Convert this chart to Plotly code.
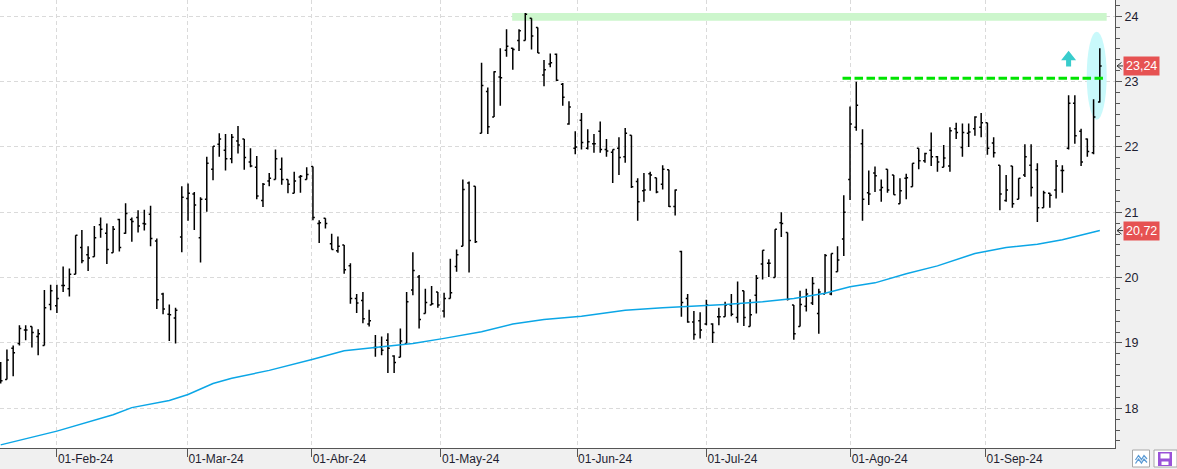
import plotly.graph_objects as go

# ---------------- data ----------------
OPEN = [18.45, 18.44, 18.92, 18.99, 19.20, 19.25, 19.10, 18.96, 19.59, 19.57,
        19.88, 19.83, 20.05, 20.46, 20.35, 20.32, 20.81, 20.68, 20.38, 20.89,
        20.68, 20.89, 20.92, 20.83, 20.97, 20.56, 19.75, 19.44, 19.38, 20.62,
        21.21, 21.28, 20.61, 21.20, 21.66, 22.04, 21.95, 21.82, 22.09, 22.12,
        21.77, 21.69, 21.18, 21.48, 21.50, 21.66, 21.50, 21.29, 21.54, 21.50,
        21.70, 20.83, 20.91, 20.52, 20.41, 20.50, 20.18, 19.68, 19.65, 19.29,
        18.93, 18.94, 19.04, 18.80, 18.78, 18.99, 19.81, 20.01, 19.45, 19.58,
        19.78, 19.49, 19.68, 20.17, 20.48, 21.45, 21.40, 22.21, 22.85, 22.46,
        23.07, 23.48, 23.51, 23.63, 23.63, 23.97, 23.83, 23.10, 23.27, 23.42,
        22.96, 22.35, 21.98, 22.41, 21.98, 22.05, 22.24, 21.96, 21.92, 21.98,
        21.85, 22.18, 21.47, 21.33, 21.59, 21.53, 21.43, 21.65, 21.09, 20.40,
        19.68, 19.32, 19.34, 19.29, 19.29, 19.40, 19.40, 19.58, 19.39, 19.80,
        19.25, 19.73, 20.21, 20.22, 20.00, 20.84, 20.69, 19.58, 19.25, 19.56,
        19.61, 19.45, 19.75, 19.75, 20.09, 20.59, 21.50, 22.30, 22.05, 21.30,
        21.60, 21.34, 21.66, 21.57, 21.13, 21.52, 21.39, 21.98, 21.79, 21.95,
        21.85, 21.69, 21.71, 22.28, 21.99, 22.21, 22.28, 22.30, 22.37, 22.06,
        21.72, 21.18, 21.71, 21.20, 21.57, 21.72, 21.65, 21.07, 21.29, 21.34,
        21.64, 21.98, 22.67, 22.24, 22.12, 21.91, 22.69]
HIGH = [18.71, 18.90, 18.96, 19.27, 19.27, 19.25, 19.21, 19.81, 19.89, 19.89,
        20.17, 20.14, 20.65, 20.73, 20.48, 20.79, 20.92, 20.83, 20.79, 20.90,
        21.14, 20.92, 21.03, 21.04, 21.10, 20.60, 19.77, 19.59, 19.54, 21.40,
        21.44, 21.31, 21.23, 21.85, 22.01, 22.21, 22.20, 22.20, 22.32, 22.12,
        21.98, 21.86, 21.45, 21.60, 21.96, 21.84, 21.50, 21.62, 21.57, 21.69,
        21.70, 20.88, 20.91, 20.67, 20.63, 20.50, 20.22, 19.75, 19.78, 19.51,
        19.12, 19.10, 19.15, 18.81, 19.22, 19.78, 20.39, 20.04, 19.83, 19.87,
        19.78, 19.77, 20.29, 20.43, 21.50, 21.47, 21.40, 23.29, 22.91, 23.16,
        23.51, 23.80, 23.52, 23.80, 24.05, 23.97, 23.83, 23.33, 23.43, 23.43,
        22.98, 22.70, 22.24, 22.52, 22.27, 22.20, 22.39, 22.12, 21.96, 22.15,
        22.29, 22.18, 21.52, 21.60, 21.62, 21.53, 21.72, 21.65, 21.35, 20.41,
        19.75, 19.49, 19.47, 19.66, 19.30, 19.54, 19.63, 19.75, 19.94, 19.80,
        19.67, 20.04, 20.42, 20.28, 20.74, 21.00, 20.69, 19.58, 19.80, 19.83,
        20.01, 19.83, 20.36, 20.37, 20.48, 21.26, 22.62, 23.00, 22.27, 21.64,
        21.70, 21.50, 21.66, 21.57, 21.52, 21.59, 21.75, 21.98, 21.91, 22.22,
        21.86, 22.03, 22.30, 22.37, 22.36, 22.36, 22.47, 22.52, 22.37, 22.15,
        21.72, 21.57, 21.71, 21.52, 22.04, 22.04, 21.75, 21.33, 21.30, 21.80,
        21.72, 22.79, 22.79, 22.28, 22.13, 22.73, 23.51]
LOW = [18.38, 18.44, 18.49, 18.96, 19.04, 18.93, 18.81, 18.96, 19.50, 19.46,
       19.78, 19.71, 20.05, 20.22, 20.10, 20.32, 20.61, 20.21, 20.38, 20.40,
       20.67, 20.55, 20.69, 20.72, 20.48, 19.52, 19.44, 19.03, 18.99, 20.39,
       20.87, 20.73, 20.23, 21.01, 21.49, 21.85, 21.64, 21.75, 21.90, 21.65,
       21.69, 21.20, 21.08, 21.40, 21.50, 21.42, 21.29, 21.29, 21.30, 21.50,
       20.88, 20.53, 20.75, 20.43, 20.38, 20.06, 19.60, 19.46, 19.30, 19.25,
       18.79, 18.81, 18.54, 18.54, 18.78, 18.99, 19.73, 19.22, 19.45, 19.58,
       19.54, 19.39, 19.68, 20.09, 20.48, 20.08, 20.53, 22.21, 22.20, 22.46,
       22.63, 23.38, 23.18, 23.47, 23.63, 23.49, 23.44, 22.93, 23.22, 23.01,
       22.63, 22.34, 21.89, 21.96, 21.96, 21.91, 21.91, 21.85, 21.45, 21.57,
       21.76, 21.37, 20.87, 21.16, 21.33, 21.29, 21.35, 21.08, 20.95, 19.40,
       19.31, 19.05, 19.07, 19.27, 19.00, 19.27, 19.40, 19.41, 19.31, 19.26,
       19.25, 19.45, 19.97, 20.01, 20.00, 20.62, 19.65, 19.05, 19.25, 19.48,
       19.58, 19.14, 19.75, 19.73, 20.09, 20.33, 21.19, 22.25, 20.87, 21.11,
       21.31, 21.16, 21.30, 21.27, 21.13, 21.20, 21.39, 21.66, 21.76, 21.71,
       21.62, 21.69, 21.62, 22.12, 21.85, 22.00, 22.17, 22.15, 21.88, 21.84,
       21.03, 21.16, 21.07, 21.20, 21.54, 21.24, 20.85, 21.07, 21.07, 21.21,
       21.30, 21.96, 22.05, 21.71, 21.85, 21.89, 22.68]
CLOSE = [18.42, 18.74, 18.85, 19.22, 19.20, 19.16, 19.14, 19.54, 19.80, 19.68,
         19.88, 20.05, 20.65, 20.26, 20.30, 20.61, 20.74, 20.43, 20.74, 20.46,
         20.98, 20.86, 20.79, 20.82, 20.60, 19.66, 19.52, 19.43, 19.50, 21.23,
         21.29, 21.11, 21.20, 21.75, 22.01, 22.12, 21.82, 22.15, 22.03, 21.84,
         21.71, 21.25, 21.43, 21.52, 21.82, 21.50, 21.43, 21.48, 21.55, 21.58,
         20.92, 20.84, 20.83, 20.43, 20.48, 20.12, 19.68, 19.61, 19.37, 19.34,
         18.93, 18.89, 18.92, 18.70, 19.03, 19.63, 20.11, 19.36, 19.62, 19.60,
         19.58, 19.68, 19.77, 20.35, 21.35, 20.57, 20.55, 22.94, 22.31, 23.15,
         23.06, 23.54, 23.49, 23.78, 24.03, 23.70, 23.44, 23.18, 23.29, 23.02,
         22.76, 22.61, 22.00, 22.07, 22.08, 22.05, 21.96, 21.94, 21.96, 21.84,
         22.21, 21.39, 21.16, 21.34, 21.57, 21.31, 21.66, 21.09, 21.34, 19.62,
         19.32, 19.13, 19.20, 19.58, 19.16, 19.40, 19.58, 19.44, 19.60, 19.39,
         19.43, 19.99, 20.42, 20.22, 20.74, 20.83, 19.67, 19.14, 19.59, 19.75,
         19.91, 19.78, 20.34, 20.37, 20.27, 21.00, 22.35, 22.64, 21.20, 21.28,
         21.56, 21.38, 21.34, 21.27, 21.33, 21.53, 21.75, 21.79, 21.90, 21.85,
         21.77, 21.83, 22.25, 22.22, 22.22, 22.23, 22.46, 22.37, 21.98, 21.91,
         21.28, 21.34, 21.13, 21.52, 21.85, 21.38, 21.07, 21.30, 21.26, 21.71,
         21.64, 22.67, 22.17, 21.77, 21.93, 22.46, 23.24]

# moving average, read at these bars
MA_BAR = [0, 9, 18, 21, 27, 30, 34, 37, 43, 48, 50, 55, 60, 66, 71, 77, 82, 87,
          93, 100, 106, 111, 116, 122, 127, 132, 136, 140, 145, 150, 156, 161,
          166, 170, 176]
MA_VALUE = [17.44, 17.65, 17.90, 18.01, 18.12, 18.21, 18.38, 18.46, 18.58,
            18.70, 18.75, 18.88, 18.93, 18.99, 19.07, 19.17, 19.29, 19.36,
            19.41, 19.50, 19.54, 19.56, 19.59, 19.63, 19.68, 19.76, 19.86,
            19.92, 20.06, 20.18, 20.37, 20.46, 20.51, 20.58, 20.72]

MONTH_LABELS = ["01-Feb-24", "01-Mar-24", "01-Abr-24", "01-May-24",
                "01-Jun-24", "01-Jul-24", "01-Ago-24", "01-Sep-24"]
Y_TICKS = [18, 19, 20, 21, 22, 23, 24]

RESISTANCE = 23.05          # green dashed level
TOP_ZONE = [23.93, 24.05]   # light green band

# ---------------- layout constants ----------------
W, H = 1177, 469
ML, MR, MT, MB = 0, 62, 0, 21
PW, PH = W - ML - MR, H - MT - MB
X_RANGE = [-0.11, 178.43]
Y_RANGE = [17.392, 24.2495]
MONTH_POS = [9.0, 29.9, 49.8, 70.5, 92.3, 113.0, 136.1, 157.7]

def px(xp):   # pixel -> paper x
    return (xp - ML) / PW

def py(yp):   # pixel -> paper y
    return (PH + MT - yp) / PH

def fmt(v):
    return f"{v:.2f}".replace(".", ",")

n = len(CLOSE)
xs = list(range(n))

fig = go.Figure()
fig.add_trace(go.Ohlc(
    x=xs, open=OPEN, high=HIGH, low=LOW, close=CLOSE,
    increasing=dict(line=dict(color="#000000", width=1.5)),
    decreasing=dict(line=dict(color="#000000", width=1.5)),
    tickwidth=0.3, hoverinfo="skip", showlegend=False))
fig.add_trace(go.Scatter(
    x=MA_BAR, y=MA_VALUE, mode="lines",
    line=dict(color="#0ba6e6", width=1.5),
    hoverinfo="skip", showlegend=False))

shapes = []
# light green top band
shapes.append(dict(type="rect", xref="x", yref="y", x0=81.9, x1=177.1,
                   y0=TOP_ZONE[0], y1=TOP_ZONE[1], fillcolor="#ccf6cc",
                   line=dict(width=0), layer="between"))
# cyan ellipse around last bar
shapes.append(dict(type="circle", xref="x", yref="y", xsizemode="pixel",
                   ysizemode="pixel", xanchor=175.5, yanchor=23.09,
                   x0=-10, x1=10, y0=-44, y1=44, fillcolor="#c9f9fb",
                   line=dict(width=0), layer="between"))
# green dashed resistance line
shapes.append(dict(type="line", xref="x", yref="y", x0=134.8, x1=176.5,
                   y0=RESISTANCE, y1=RESISTANCE,
                   line=dict(color="#00e400", width=3, dash="8.5px,3.5px")))
# cyan up arrow
shapes.append(dict(type="path", xref="x", yref="y", xsizemode="pixel",
                   ysizemode="pixel", xanchor=171.0, yanchor=23.35,
                   path="M 0,8 L 7.5,-1.5 L 2.5,-1.5 L 2.5,-7.7 L -2.5,-7.7 L -2.5,-1.5 L -7.5,-1.5 Z",
                   fillcolor="#38cccc", line=dict(width=0)))
# small arrows pointing at the axis for the labels
for v in (CLOSE[-1], MA_VALUE[-1]):
    shapes.append(dict(type="path", xref="paper", yref="y", xsizemode="pixel",
                       ysizemode="pixel", xanchor=1, yanchor=v,
                       path="M 6.5,3.5 L 2,0 L 6.5,-3.5 M 2,0 L 8,0",
                       line=dict(color="#333333", width=1)))
# bottom-right buttons
shapes.append(dict(type="rect", xref="paper", yref="paper",
                   x0=px(1132.5), x1=px(1149.5), y0=py(467), y1=py(450),
                   fillcolor="#ffffff", line=dict(color="#a8a8a8", width=1)))
zig1 = [(1135.5, 460), (1138.5, 455.5), (1141.5, 459.5), (1144, 455.5), (1147, 459)]
zig2 = [(1135.5, 463.5), (1138.5, 459), (1141.5, 463), (1144, 459), (1147, 462.5)]
for zz in (zig1, zig2):
    pth = "M " + " L ".join(f"{px(a)},{py(b)}" for a, b in zz)
    shapes.append(dict(type="path", xref="paper", yref="paper", path=pth,
                       line=dict(color="#5b9bd5", width=1.3)))
shapes.append(dict(type="rect", xref="paper", yref="paper",
                   x0=px(1154), x1=px(1177), y0=py(467), y1=py(450),
                   fillcolor="#ffffff", line=dict(color="#a8a8a8", width=1)))
shapes.append(dict(type="rect", xref="paper", yref="paper",
                   x0=px(1158), x1=px(1172), y0=py(466), y1=py(452),
                   fillcolor="#9a52d8", line=dict(width=0)))
shapes.append(dict(type="rect", xref="paper", yref="paper",
                   x0=px(1160.5), x1=px(1169.5), y0=py(458.5), y1=py(453.5),
                   fillcolor="#ffffff", line=dict(width=0)))
shapes.append(dict(type="rect", xref="paper", yref="paper",
                   x0=px(1161.5), x1=px(1168.5), y0=py(465), y1=py(461.5),
                   fillcolor="#ffffff", line=dict(width=0)))

annotations = []
for v in (CLOSE[-1], MA_VALUE[-1]):
    annotations.append(dict(xref="paper", yref="y", x=1, y=v, xanchor="left",
                            yanchor="middle", xshift=8, text=fmt(v),
                            showarrow=False, bgcolor="#e65252", borderpad=2,
                            font=dict(family="Liberation Sans", size=12.5,
                                      color="#ffffff")))

fig.update_layout(
    width=W, height=H, autosize=False,
    margin=dict(l=ML, r=MR, t=MT, b=MB, pad=0),
    paper_bgcolor="#f0f0f0", plot_bgcolor="#ffffff",
    font=dict(family="Liberation Sans", size=12, color="#1e1e30"),
    showlegend=False, shapes=shapes, annotations=annotations,
    xaxis=dict(range=X_RANGE, tickmode="array", tickvals=MONTH_POS,
               ticktext=MONTH_LABELS, ticks="outside", ticklen=8,
               tickcolor="#555555", showline=True, linecolor="#555555",
               linewidth=1, showgrid=True, gridcolor="#dadada",
               griddash="4px,3px", gridwidth=1, zeroline=False,
               ticklabelposition="outside right", rangeslider=dict(visible=False),
               tickfont=dict(size=12, color="#1e1e30"), fixedrange=True),
    yaxis=dict(range=Y_RANGE, side="right", tickmode="array", tickvals=Y_TICKS,
               ticktext=[str(t) for t in Y_TICKS], ticks="outside", ticklen=6,
               tickcolor="#555555", showline=True, linecolor="#555555",
               linewidth=1, showgrid=True, gridcolor="#dadada",
               griddash="4px,3px", zeroline=False,
               minor=dict(tick0=0, dtick=1/6, ticks="outside", ticklen=3.5,
                          tickcolor="#555555", showgrid=False),
               tickfont=dict(size=12.5, color="#1e1e30"), fixedrange=True),
)

fig.write_html(
    "out.html",
    config={"displayModeBar": False, "staticPlot": True},
    post_script="document.body.style.margin='0';document.body.style.padding='0';"
                "document.body.style.overflow='hidden';",
)
